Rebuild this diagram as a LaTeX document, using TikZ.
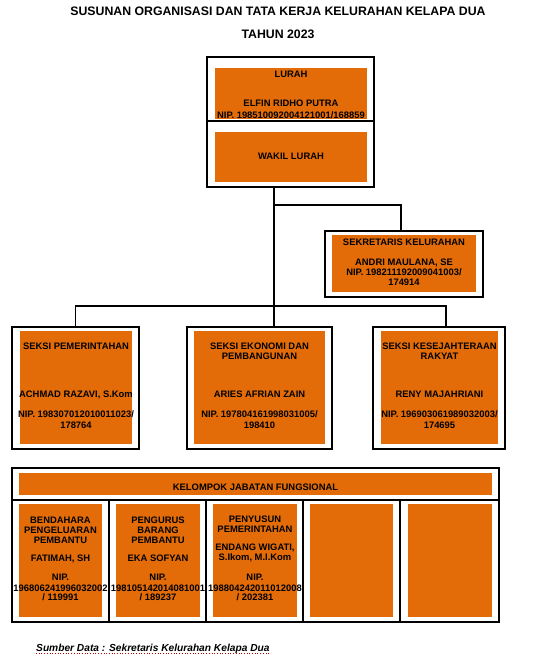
\documentclass[tikz,border=0pt]{standalone}
\usepackage{fontspec}
\setmainfont{Liberation Sans}
\usetikzlibrary{calc}
\definecolor{orangeC}{HTML}{E36C09}
\begin{document}
\begin{tikzpicture}[x=1pt,y=-1pt,
  frame/.style={draw=black, line width=1.8pt, fill=white, inner sep=0pt, outer sep=0pt, anchor=north west},
  obox/.style={fill=orangeC, draw=none, inner sep=0pt, outer sep=0pt, anchor=north west},
  lbl/.style={font=\bfseries\fontsize{9.4}{10}\selectfont, inner sep=0pt, anchor=base, text=black},
  ttl/.style={font=\bfseries\fontsize{12.3}{14}\selectfont, inner sep=0pt, anchor=base},
  conn/.style={draw=black, line width=1.4pt}]
\useasboundingbox (0,0) rectangle (557,657);
% title
\node[ttl] (title1) at (278,15.7) {SUSUNAN ORGANISASI DAN TATA KERJA KELURAHAN KELAPA DUA};
\node[ttl] (title2) at (278,38.3) {TAHUN 2023};
% frames
\node[frame, minimum width=167pt, minimum height=64pt] (lurahF) at (207,57) {};
\node[frame, minimum width=167pt, minimum height=66pt] (wakilF) at (207,121) {};
\node[frame, minimum width=158pt, minimum height=66pt] (sekF) at (325,231) {};
\node[frame, minimum width=127pt, minimum height=122pt] (s1F) at (12,327) {};
\node[frame, minimum width=145pt, minimum height=122pt] (s2F) at (187,327) {};
\node[frame, minimum width=132pt, minimum height=122pt] (s3F) at (373,327) {};
\node[frame, minimum width=487pt, minimum height=32pt] (kjfF) at (12,468) {};
\node[frame, minimum width=97pt, minimum height=122pt] (c1F) at (12,500) {};
\node[frame, minimum width=97pt, minimum height=122pt] (c2F) at (109,500) {};
\node[frame, minimum width=97pt, minimum height=122pt] (c3F) at (206,500) {};
\node[frame, minimum width=97pt, minimum height=122pt] (c4F) at (303,500) {};
\node[frame, minimum width=99pt, minimum height=122pt] (c5F) at (400,500) {};
% orange boxes
\node[obox, minimum width=152pt, minimum height=51pt] (lurahO) at (215,68) {};
\node[obox, minimum width=152pt, minimum height=50pt] (wakilO) at (215,132) {};
\node[obox, minimum width=144pt, minimum height=57pt] (sekO) at (332,235) {};
\node[obox, minimum width=112pt, minimum height=113pt] (s1O) at (20,331) {};
\node[obox, minimum width=131pt, minimum height=113pt] (s2O) at (194,331) {};
\node[obox, minimum width=117pt, minimum height=113pt] (s3O) at (381,331) {};
\node[obox, minimum width=473pt, minimum height=22pt] (kjfO) at (19,473) {};
\node[obox, minimum width=83pt, minimum height=113pt] (c1O) at (19,504) {};
\node[obox, minimum width=84pt, minimum height=113pt] (c2O) at (116,504) {};
\node[obox, minimum width=84pt, minimum height=113pt] (c3O) at (213,504) {};
\node[obox, minimum width=83pt, minimum height=113pt] (c4O) at (310,504) {};
\node[obox, minimum width=84pt, minimum height=113pt] (c5O) at (408,504) {};
% connectors
\coordinate (jA) at (274,205);
\coordinate (jB) at (274,306);
\draw[conn] (wakilF.south -| jA) -- (jB);
\draw[conn] (jA) -| ($(sekF.north)+(-3,0)$);
\draw[conn] (jB) -| (s1F.north);
\draw[conn] (jB) -- (jB |- s2F.north);
\draw[conn] (jB) -| ($(s3F.north)+(7,0)$);
% lurah texts
\node[lbl] (t1) at (291,77.3) {LURAH};
\node[lbl] (t2) at (291,106) {ELFIN RIDHO PUTRA};
\node[lbl] (t3) at (291,118.7) {NIP. 198510092004121001/168859};
\node[lbl] (t4) at (291,159.3) {WAKIL LURAH};
% sekretaris
\node[lbl] (t5) at (404,245.3) {SEKRETARIS KELURAHAN};
\node[lbl] (t6) at (404,265.3) {ANDRI MAULANA, SE};
\node[lbl] (t7) at (404,275.3) {NIP. 198211192009041003/};
\node[lbl] (t8) at (404,285) {174914};
% seksi 1
\node[lbl] (a1) at (76,349) {SEKSI PEMERINTAHAN};
\node[lbl] (a2) at (76,397.7) {ACHMAD RAZAVI, S.Kom};
\node[lbl] (a3) at (76,417.7) {NIP. 198307012010011023/};
\node[lbl] (a4) at (76,428.3) {178764};
% seksi 2
\node[lbl] (b1) at (259.5,349) {SEKSI EKONOMI DAN};
\node[lbl] (b2) at (259.5,359) {PEMBANGUNAN};
\node[lbl] (b3) at (259.5,397.7) {ARIES AFRIAN ZAIN};
\node[lbl] (b4) at (259.5,417.7) {NIP. 197804161998031005/};
\node[lbl] (b5) at (259.5,428.3) {198410};
% seksi 3
\node[lbl] (d1) at (439.5,349) {SEKSI KESEJAHTERAAN};
\node[lbl] (d2) at (439.5,359) {RAKYAT};
\node[lbl] (d3) at (439.5,397.7) {RENY MAJAHRIANI};
\node[lbl] (d4) at (439.5,417.7) {NIP. 196903061989032003/};
\node[lbl] (d5) at (439.5,428.3) {174695};
% kelompok
\node[lbl] (k0) at (255.5,490.7) {KELOMPOK JABATAN FUNGSIONAL};
% col 1
\node[lbl] (e1) at (60.5,523.3) {BENDAHARA};
\node[lbl] (e2) at (60.5,533.3) {PENGELUARAN};
\node[lbl] (e3) at (60.5,543.3) {PEMBANTU};
\node[lbl] (e4) at (60.5,561.7) {FATIMAH, SH};
\node[lbl] (e5) at (60.5,580.7) {NIP.};
\node[lbl] (e6) at (60.5,591) {196806241996032002};
\node[lbl] (e7) at (60.5,600.7) {/ 119991};
% col 2
\node[lbl] (f1) at (158,523.3) {PENGURUS};
\node[lbl] (f2) at (158,533.3) {BARANG};
\node[lbl] (f3) at (158,543.3) {PEMBANTU};
\node[lbl] (f4) at (158,561.7) {EKA SOFYAN};
\node[lbl] (f5) at (158,580.7) {NIP.};
\node[lbl] (f6) at (158,591) {198105142014081001};
\node[lbl] (f7) at (158,600.7) {/ 189237};
% col 3
\node[lbl] (g1) at (255,522.3) {PENYUSUN};
\node[lbl] (g2) at (255,532.3) {PEMERINTAHAN};
\node[lbl] (g3) at (255,550) {ENDANG WIGATI,};
\node[lbl] (g4) at (255,560.7) {S.Ikom, M.I.Kom};
\node[lbl] (g5) at (255,580.7) {NIP.};
\node[lbl] (g6) at (255,591) {198804242011012008};
\node[lbl] (g7) at (255,600.7) {/ 202381};
% source
\node[font=\bfseries\itshape\fontsize{10.2}{12}\selectfont, anchor=base west, inner sep=0pt] (src) at (36,651) {Sumber Data : Sekretaris Kelurahan Kelapa Dua};
\draw[red!75!black, line width=0.7pt, dotted] ($(src.base west)+(0,2)$) -- ($(src.base east)+(0,2)$);
\end{tikzpicture}
\end{document}
